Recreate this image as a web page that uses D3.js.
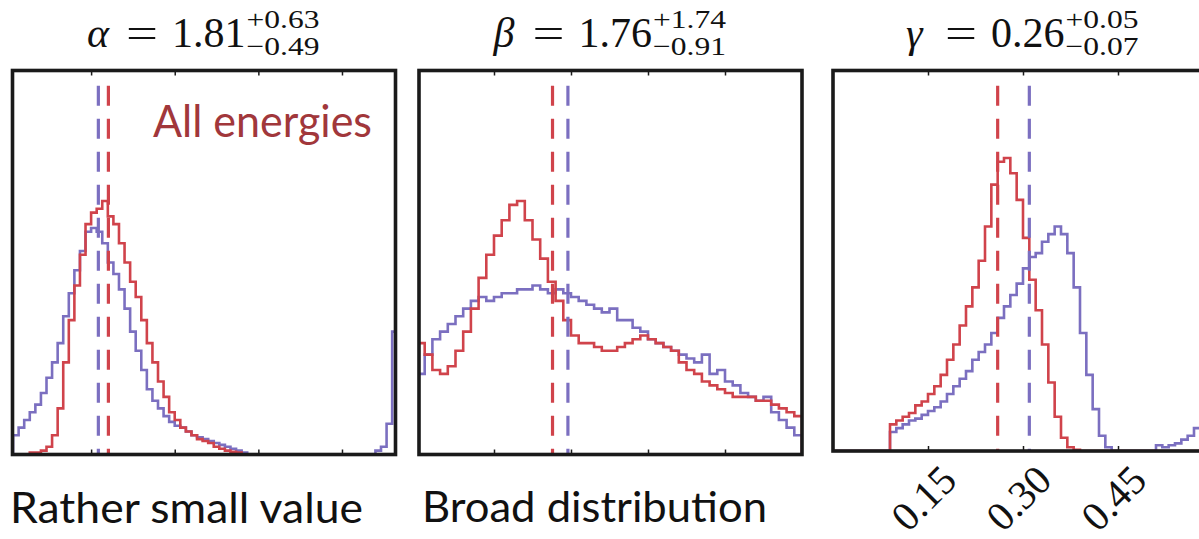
<!DOCTYPE html>
<html><head><meta charset="utf-8">
<script src="https://cdn.jsdelivr.net/npm/d3@7"></script>
<style>html,body{margin:0;padding:0;background:#fff;overflow:hidden}</style>
</head><body><svg id="chart" width="1199" height="539"></svg>
<script>
// ---------------- DATA ----------------
const alphaTicks = [1.5, 3, 4.5, 6];
const betaTicks = [1, 2, 3, 4];
const gammaTicks = [0.15, 0.30, 0.45];
const gammaTickLabels = ["0.15", "0.30", "0.45"];

const alphaDomain = [0.09, 6.96];
const betaDomain = [0.026, 5.0];
const gammaDomain = [0, 0.6];

const alphaBinStart = 0.1, alphaBinWidth = 0.1;
const betaBinStart = 0.0, betaBinWidth = 0.1;
const gammaBinStart = 0.0, gammaBinWidth = 0.01;

// relative frequency (% of axis height)
const alphaBlue = [5,7,9,11,13,16,20,24,29,36,
  42,48,53,58,59,58,55,50,47,43,
  38,32,27,22,17,14,12,10,8.5,7.5,
  7,6,5,4.5,4,3.5,3,2.5,2,1.5,
  1,0.5,0,0,0,0,0,0,0,0,
  0,0,0,0,0,0,0,0,0,0,
  0,0,0,0,0,1,2,8,32];
const alphaRed = [0,0,0,0.5,0.5,1,2,5,12,24,
  35,44,52,60,63,64,66,62,60,55,
  50,45,41,35,29,24,19,15,11,9,
  7,6,5,4,3.5,3,2,1.5,1,0.7,
  0.5,0,0,0,0,0,0,0,0,0,
  0,0,0,0,0,0,0,0,0,0,
  0,0,0,0,0,0,0,0,0];
const betaBlue = [21,26,30,32,34,36,38,40,41,40,
  41,42,42,43,43,44,43,42,43,42,
  41,40,39,38,37,38,35,35,33,32,
  30,29,28,27,26,25,24,26,21,22,
  19,18,16,15,14,15,11,9,7,5];
const betaRed = [29,26,22,21,23,27,32,38,46,52,
  57,61,65,66,61,56,51,45,40,35,
  31,29,29,28,27,27,28,29,30,31,
  30,29,28,27,24,22,21,19,18,17,
  16,15,15,15,14,14,13,12,11,10];
const gammaBlue = [0,0,0,0,0,0,0,0,0,5,
  6,7,8,8.5,9.5,10.5,11.5,13,15,17,
  19,21,24,26,28,31,35,38,41,44,
  48,51,52,55,57,59,57,52,43,31,
  20,11,4,1,0,0,0,0,0,0,
  0,1.5,1,1.5,2,3,4,6,9,14];
const gammaRed = [0,0,0,0,0,0,0,0,0,7,
  8,9,10,12,13,15,17,20,24,28,
  33,38,43,50,59,70,76,77,73,66,
  56,45,37,28,18,9,3.5,1,0.3,0,
  0,0,0,0,0,0,0,0,0,0,
  0,0,0,0,0,0,0,0,0,0];

const alphaMedians = {blue: 1.63, red: 1.81};
const betaMedians = {blue: 1.96, red: 1.76};
const gammaMedians = {blue: 0.31, red: 0.26};

const paramSymbols = ["α", "β", "γ"];
const paramValues = ["1.81", "1.76", "0.26"];
const paramUpper = ["+0.63", "+1.74", "+0.05"];
const paramLower = ["−0.49", "−0.91", "−0.07"];

const insideLabel = "All energies";
const captions = ["Rather small value", "Broad distribution"];

// ---------------- STYLE / LAYOUT ----------------
const RED = "#d0434b", BLUE = "#7b6fc0", BORDER = "#1a1a1a";
const boxes = [
  {x0: 12.5, x1: 395.5, y0: 70.5, y1: 454.5},
  {x0: 419, x1: 802, y0: 70.5, y1: 454.5},
  {x0: 833, x1: 1213, y0: 70.5, y1: 451}
];
const panels = [
  {domain: alphaDomain, ticks: alphaTicks, start: alphaBinStart, w: alphaBinWidth, blue: alphaBlue, red: alphaRed, med: alphaMedians},
  {domain: betaDomain, ticks: betaTicks, start: betaBinStart, w: betaBinWidth, blue: betaBlue, red: betaRed, med: betaMedians},
  {domain: gammaDomain, ticks: gammaTicks, start: gammaBinStart, w: gammaBinWidth, blue: gammaBlue, red: gammaRed, med: gammaMedians, labels: gammaTickLabels}
];

const svg = d3.select("#chart");
const SERIF = "'Liberation Serif','DejaVu Serif',serif";
const SANS = "Lato,'Open Sans',sans-serif";

function histPoints(vals, start, w) {
  const pts = [[start, 0]];
  vals.forEach((v, i) => pts.push([start + i * w, v]));
  pts.push([start + vals.length * w, vals[vals.length - 1]]);
  pts.push([start + vals.length * w, 0]);
  return pts;
}

panels.forEach((p, k) => {
  const b = boxes[k];
  const x = d3.scaleLinear().domain(p.domain).range([b.x0, b.x1]);
  const y = d3.scaleLinear().domain([0, 100]).range([b.y1, b.y0]);
  const g = svg.append("g");
  const clipId = "clip" + k;
  svg.append("clipPath").attr("id", clipId).append("rect")
    .attr("x", b.x0).attr("y", b.y0).attr("width", b.x1 - b.x0).attr("height", b.y1 - b.y0);
  const plot = g.append("g").attr("clip-path", `url(#${clipId})`);
  const line = d3.line().x(d => x(d[0])).y(d => y(d[1])).curve(d3.curveStepAfter);
  [["blue", BLUE], ["red", RED]].forEach(([key, col]) => {
    plot.append("path").attr("d", line(histPoints(p[key], p.start, p.w)))
      .attr("fill", "none").attr("stroke", col).attr("stroke-width", 2.6)
      .attr("stroke-linejoin", "miter");
  });
  // medians (dashed)
  [["blue", BLUE], ["red", RED]].forEach(([key, col]) => {
    plot.append("line").attr("x1", x(p.med[key])).attr("x2", x(p.med[key]))
      .attr("y1", y(96)).attr("y2", y(0))
      .attr("stroke", col).attr("stroke-width", 3.2).attr("stroke-dasharray", "20 13");
  });
  // axes (ticks inward)
  const bottom = d3.axisBottom(x).tickValues(p.ticks).tickSizeInner(-5).tickSizeOuter(0)
    .tickFormat((d, i) => p.labels ? p.labels[i] : "");
  const gb = g.append("g").attr("transform", `translate(0,${b.y1})`).call(bottom);
  const gt = g.append("g").attr("transform", `translate(0,${b.y0})`)
    .call(d3.axisTop(x).tickValues(p.ticks).tickSizeInner(-5).tickSizeOuter(0).tickFormat(""));
  [gb, gt].forEach(a => {
    a.select(".domain").remove();
    a.selectAll(".tick line").attr("stroke", BORDER).attr("stroke-width", 1.5);
  });
  gb.selectAll(".tick text")
    .attr("y", 0).attr("dy", null)
    .attr("transform", "translate(-5,47) rotate(-45)")
    .attr("text-anchor", "middle").attr("dominant-baseline", "central")
    .attr("font-family", SERIF).attr("font-size", 41).attr("fill", "#111");
  // border
  g.append("rect").attr("x", b.x0).attr("y", b.y0).attr("width", b.x1 - b.x0).attr("height", b.y1 - b.y0)
    .attr("fill", "none").attr("stroke", BORDER).attr("stroke-width", 3.6);

  // title
  const c = (b.x0 + b.x1) / 2;
  const t = svg.append("g").attr("font-family", SERIF).attr("fill", "#111");
  t.append("text").attr("x", c - 117).attr("y", 47).attr("font-size", 42).attr("font-style", "italic").text(paramSymbols[k]);
  t.append("text").attr("x", c - 78).attr("y", 47).attr("font-size", 42).attr("textLength", 32)
    .attr("lengthAdjust", "spacingAndGlyphs").text("=");
  const num = t.append("text").attr("x", c - 32).attr("y", 47).attr("font-size", 42).text(paramValues[k]);
  const nx = c - 32 + num.node().getComputedTextLength() + 1;
  t.append("text").attr("x", nx).attr("y", 28).attr("font-size", 26).attr("textLength", 73)
    .attr("lengthAdjust", "spacingAndGlyphs").text(paramUpper[k]);
  t.append("text").attr("x", nx).attr("y", 55).attr("font-size", 26).attr("textLength", 73)
    .attr("lengthAdjust", "spacingAndGlyphs").text(paramLower[k]);
});

// annotations
svg.append("text").attr("x", 153).attr("y", 137).attr("font-family", SANS).attr("font-size", 44)
  .attr("fill", "#a1373b").attr("textLength", 219).attr("lengthAdjust", "spacingAndGlyphs").text(insideLabel);
svg.append("text").attr("x", 10).attr("y", 523).attr("font-family", SANS).attr("font-size", 42)
  .attr("fill", "#111").attr("textLength", 353).attr("lengthAdjust", "spacingAndGlyphs").text(captions[0]);
svg.append("text").attr("x", 422).attr("y", 522).attr("font-family", SANS).attr("font-size", 42)
  .attr("fill", "#111").attr("textLength", 345).attr("lengthAdjust", "spacingAndGlyphs").text(captions[1]);
</script></body></html>
